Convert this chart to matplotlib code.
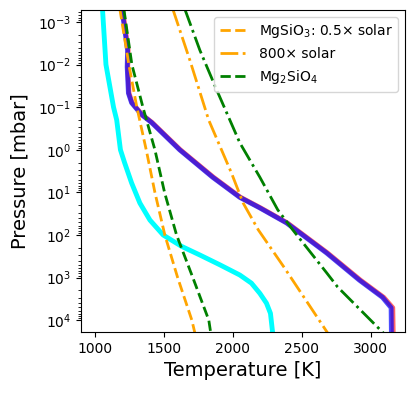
import matplotlib
matplotlib.use('Agg')
import matplotlib.pyplot as plt

# ==============================================================================
# Data, pressure in mbar, temperature in K
# ==============================================================================
# cyan profile
cyan_p = [5e-4, 1e-2, 1e-1, 0.2, 1, 2, 6, 17.8, 44.7, 100, 186, 295, 501, 871,
          1350, 2340, 3980, 6900, 2e4]
cyan_T = [1055, 1080, 1135, 1158, 1185, 1215, 1266, 1326, 1399, 1495, 1630, 1761, 1906, 2051,
          2135, 2196, 2244, 2273, 2289]

# red / blue profiles (almost identical)
prof_p = [5e-4, 4.6e-3, 1.15e-2, 4.7e-2, 7.9e-2, 0.15, 0.23, 1.0, 4.4, 13, 23, 52, 263, 1150,
          2900, 5100, 2e4]
blue_T = [1196, 1237, 1234, 1243, 1266, 1338, 1411, 1614, 1853, 2049, 2194, 2389, 2679, 2918,
          3085, 3148, 3150]
red_T = [1200, 1241, 1238, 1247, 1270, 1342, 1415, 1619, 1859, 2055, 2200, 2395, 2686, 2926,
         3094, 3160, 3163]

# MgSiO3 condensation, 0.5x solar
mgsio3_p = [5e-4, 1e-2, 1e-1, 1e0, 10, 100, 1e3, 1e4, 2e4]
mgsio3_T = [1181, 1246, 1304, 1372, 1435, 1507, 1600, 1703, 1725]

# MgSiO3 condensation, 800x solar
mgsio3_800_p = [5e-4, 7.8e-3, 0.2, 3.5, 17.8, 76, 562, 2e4]
mgsio3_800_T = [1565, 1688, 1825, 1990, 2075, 2185, 2370, 2688]

# Mg2SiO4 condensation, 0.5x solar
mg2sio4_p = [5e-4, 1e-2, 1e-1, 1e0, 10, 100, 1e3, 1e4, 2e4]
mg2sio4_T = [1210, 1268, 1348, 1435, 1505, 1592, 1710, 1826, 1840]

# Mg2SiO4 condensation, 800x solar
mg2sio4_800_p = [5e-4, 4.6e-3, 4e-2, 0.69, 4.4, 25.7, 76, 776, 1660, 2e4]
mg2sio4_800_T = [1652, 1761, 1884, 2051, 2196, 2326, 2435, 2681, 2760, 3092]

y_ticks = [1e-3, 1e-2, 1e-1, 1e0, 1e1, 1e2, 1e3, 1e4]
x_ticks = [1000, 1500, 2000, 2500, 3000]

# ==============================================================================
# Plot
# ==============================================================================
fig = plt.figure(figsize=(4.16, 3.93), dpi=100)
ax = fig.add_axes([0.195, 0.155, 0.779, 0.820])

ax.plot(cyan_T, cyan_p, color='cyan', lw=3.5)
ax.plot(red_T, prof_p, color='red', lw=3.5, alpha=0.6)
ax.plot(blue_T, prof_p, color='blue', lw=3.5, alpha=0.7)

ax.plot(mgsio3_T, mgsio3_p, color='orange', ls='--', lw=2, label='MgSiO$_3$: 0.5× solar')
ax.plot(mgsio3_800_T, mgsio3_800_p, color='orange', ls='-.', lw=2, label='800× solar')
ax.plot(mg2sio4_T, mg2sio4_p, color='green', ls='--', lw=2, label='Mg$_2$SiO$_4$')
ax.plot(mg2sio4_800_T, mg2sio4_800_p, color='green', ls='-.', lw=2)

ax.set_yscale('log')
ax.set_yticks(y_ticks)
ax.set_ylim(1.9e4, 5.2e-4)
ax.set_xlim(900, 3250)
ax.set_xticks(x_ticks)
ax.tick_params(labelsize=10)

ax.set_xlabel('Temperature [K]', fontsize=14)
ax.set_ylabel('Pressure [mbar]', fontsize=14, labelpad=6)
ax.legend(loc='upper right', fontsize=10)

fig.savefig('out.png', dpi=100)
